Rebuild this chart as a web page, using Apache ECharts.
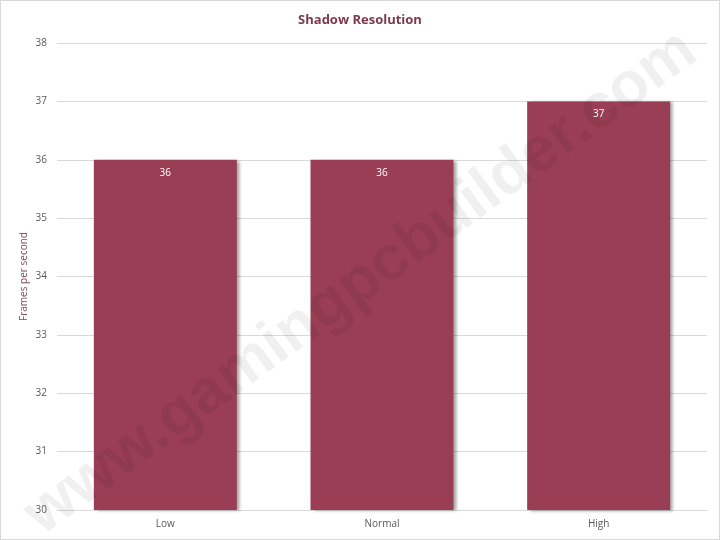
<!DOCTYPE html>
<html>
<head>
<meta charset="utf-8">
<script src="https://cdn.jsdelivr.net/npm/echarts@6/dist/echarts.min.js"></script>
<style>
  html, body { margin: 0; padding: 0; background: #fff; }
  #chart { width: 718px; height: 538px; border: 1px solid #d9d9d9; }
</style>
</head>
<body>
<div id="chart"></div>
<script>
// 圖表資料
const categories = ['Low', 'Normal', 'High'];
const fpsValues = [36, 36, 37];
const yTicks = [30, 31, 32, 33, 34, 35, 36, 37, 38];

const chart = echarts.init(document.getElementById('chart'), null, { renderer: 'canvas' });

const option = {
  backgroundColor: '#fff',
  animation: false,
  title: {
    text: 'Shadow Resolution',
    left: 'center',
    top: 8,
    textStyle: {
      fontFamily: 'Open Sans',
      fontSize: 13,
      fontWeight: 'bold',
      color: '#7b3a50',
    },
  },
  grid: {
    left: 56,
    right: 12,
    top: 42,
    bottom: 29,
    outerBoundsMode: 'none',
  },
  xAxis: {
    type: 'category',
    data: categories,
    axisLine: { lineStyle: { color: '#d9d9d9' } },
    axisTick: { show: false },
    axisLabel: {
      color: '#595959',
      fontFamily: 'Open Sans',
      fontSize: 10,
      margin: 9,
    },
  },
  yAxis: {
    type: 'value',
    min: yTicks[0],
    max: yTicks[yTicks.length - 1],
    interval: 1,
    name: 'Frames per second',
    nameLocation: 'middle',
    nameGap: 28,
    nameMoveOverlap: false,
    nameTextStyle: {
      color: '#7a4e5c',
      fontFamily: 'Open Sans',
      fontSize: 10,
    },
    axisLine: { show: false },
    axisTick: { show: false },
    axisLabel: {
      color: '#595959',
      fontFamily: 'Open Sans',
      fontSize: 10,
      margin: 10,
    },
    splitLine: { lineStyle: { color: '#d9d9d9' } },
  },
  series: [
    {
      type: 'bar',
      data: fpsValues,
      barWidth: 143,
      itemStyle: {
        color: '#9a3e56',
        shadowColor: 'rgba(0,0,0,0.35)',
        shadowBlur: 3,
        shadowOffsetX: 3,
        shadowOffsetY: 1,
      },
      label: {
        show: true,
        position: 'insideTop',
        distance: 8,
        color: '#fff',
        fontFamily: 'Open Sans',
        fontSize: 10,
      },
    },
  ],
  graphic: [
    {
      type: 'text',
      x: 360,
      y: 282,
      rotation: (36 * Math.PI) / 180,
      z: 100,
      silent: true,
      style: {
        text: 'www.gamingpcbuilder.com',
        font: 'bold 63px "Liberation Sans"',
        fill: 'rgba(0,0,0,0.06)',
        align: 'center',
        verticalAlign: 'middle',
      },
    },
  ],
};

chart.setOption(option);
</script>
</body>
</html>
